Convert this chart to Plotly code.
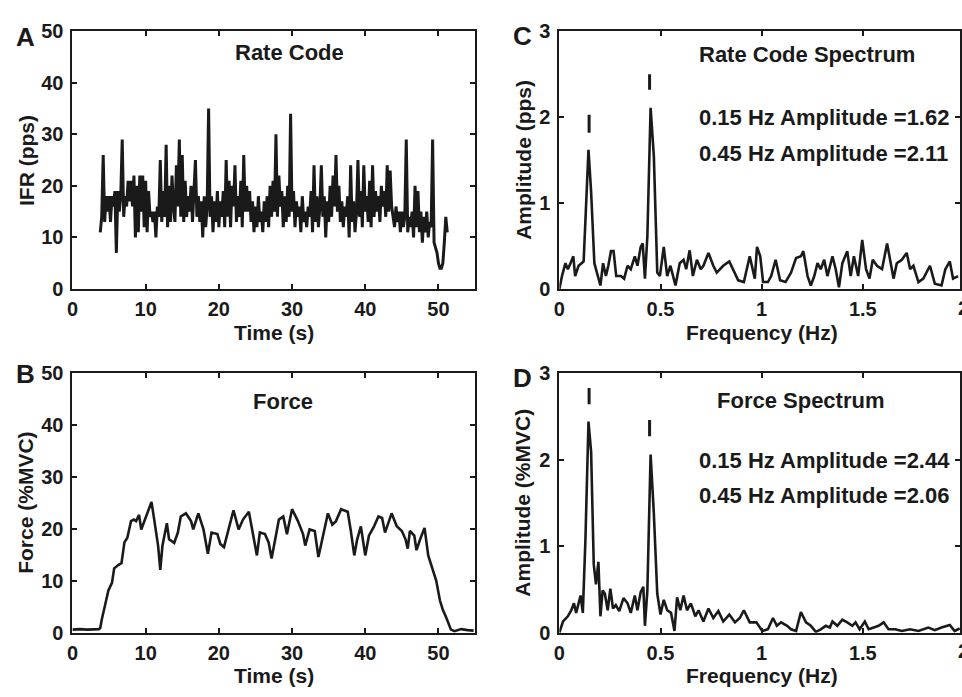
import plotly.graph_objects as go

# ---------------- data ----------------
# Panel A: instantaneous firing rate (pps), sampled every 0.2 s from 3.8 s
rate_t0 = 3.8
rate_dt = 0.2
rate_ifr = [11,
    14, 26, 13, 18, 15,
    18, 13, 18, 16, 19,
    7, 19, 15, 18, 29,
    14, 18, 16, 21, 17,
    21, 16, 22, 10, 20,
    11, 22, 15, 22, 12,
    21, 11, 19, 14, 15,
    13, 15, 10, 16, 14,
    25, 13, 19, 14, 28,
    12, 20, 13, 22, 16,
    13, 24, 16, 29, 14,
    26, 13, 21, 14, 18,
    15, 20, 13, 19, 25,
    14, 18, 13, 17, 10,
    18, 12, 16, 35, 14,
    18, 11, 17, 13, 19,
    12, 17, 14, 19, 12,
    25, 14, 21, 12, 20,
    16, 24, 13, 18, 14,
    21, 12, 26, 15, 20,
    15, 19, 13, 17, 11,
    16, 12, 18, 13, 15,
    11, 17, 13, 18, 12,
    20, 14, 21, 15, 30,
    14, 22, 16, 19, 12,
    18, 13, 20, 14, 34,
    15, 19, 12, 17, 14,
    16, 11, 18, 13, 15,
    12, 16, 14, 19, 11,
    24, 13, 18, 12, 16,
    24, 14, 18, 10, 17,
    13, 20, 14, 22, 16,
    26, 15, 20, 13, 17,
    12, 16, 14, 18, 10,
    24, 13, 17, 11, 15,
    25, 14, 19, 12, 24,
    15, 18, 13, 21, 12,
    24, 14, 19, 15, 18,
    13, 20, 16, 19, 14,
    24, 15, 23, 16, 14,
    12, 16, 13, 15, 11,
    15, 12, 14, 29, 11,
    14, 12, 15, 10, 20,
    12, 19, 11, 15, 9,
    14, 11, 15, 10, 13,
    12, 29, 9, 8, 7,
    5, 4, 4, 5, 9,
    14, 11]
rate_time = [round(rate_t0 + i * rate_dt, 2) for i in range(len(rate_ifr))]

# Panel B: force (%MVC)
force_time = [0, 1, 2, 3, 3.6, 3.8, 4.0, 4.5, 4.9, 5.4, 5.7, 6.3, 6.7, 7.1, 7.5, 8.0, 8.4,
              8.7, 9.1, 9.4, 9.9, 10.3, 10.8, 11.2, 11.7, 12.0, 12.3, 12.9, 13.2, 13.9,
              14.4, 14.8, 15.5, 16.2, 16.5, 17.2, 17.9, 18.5, 19.0, 19.8, 20.2, 20.7,
              21.4, 22.0, 22.7, 23.3, 24.1, 24.5, 25.2, 25.6, 26.3, 26.8, 27.2, 27.7,
              28.2, 28.8, 29.3, 30.0, 30.8, 31.5, 31.8, 32.4, 33.1, 33.6, 34.2, 34.9,
              35.5, 36.0, 36.7, 37.6, 38.0, 38.5, 38.9, 39.4, 40.0, 40.5, 41.2, 41.8,
              42.3, 42.7, 43.6, 44.3, 45.0, 45.5, 45.8, 46.1, 46.7, 47.0, 47.5, 48.1,
              48.6, 49.3, 49.7, 50.2, 50.6, 51.1, 51.7, 52.2, 53.1, 54.0, 54.8]
force_pct = [0.6, 0.7, 0.6, 0.6, 0.7, 0.9, 2.5, 5.6, 8.1, 9.6, 12.4, 13.1, 13.4, 17.4, 18.3,
             21.5, 21.8, 21.5, 22.7, 19.9, 21.8, 23.0, 25.2, 21.5, 16.8, 12.1, 16.8, 21.1,
             18.0, 17.3, 19.3, 22.4, 23.0, 21.5, 19.9, 23.0, 19.9, 15.2, 19.3, 19.0, 17.1,
             16.5, 20.5, 23.6, 19.9, 21.8, 23.3, 20.5, 14.9, 19.3, 19.0, 17.4, 14.3, 18.0,
             21.8, 22.4, 19.0, 23.8, 21.5, 19.0, 16.8, 19.9, 19.6, 14.6, 18.7, 23.0, 20.8,
             21.5, 23.8, 23.3, 19.9, 14.9, 18.0, 20.5, 14.9, 18.7, 20.5, 22.4, 22.1, 19.3,
             23.0, 20.5, 19.6, 18.0, 16.2, 19.6, 18.7, 15.9, 18.0, 20.2, 14.9, 11.8, 10.0,
             6.2, 4.4, 2.8, 0.6, 0.3, 0.7, 0.5, 0.4]

# Panel C: rate code spectrum (pps)
rc_freq = [0.0, 0.013, 0.03, 0.042, 0.055, 0.069, 0.078, 0.095, 0.11, 0.12, 0.144, 0.157,
           0.173, 0.186, 0.203, 0.216, 0.23, 0.242, 0.255, 0.268, 0.281, 0.304, 0.32, 0.337,
           0.353, 0.373, 0.386, 0.402, 0.412, 0.423, 0.435, 0.451, 0.467, 0.484, 0.497,
           0.516, 0.533, 0.549, 0.574, 0.595, 0.614, 0.627, 0.644, 0.66, 0.68, 0.699, 0.712,
           0.737, 0.761, 0.778, 0.81, 0.84, 0.859, 0.884, 0.912, 0.941, 0.966, 0.977, 0.993,
           1.007, 1.031, 1.047, 1.069, 1.091, 1.118, 1.145, 1.17, 1.194, 1.206, 1.227, 1.243,
           1.26, 1.276, 1.292, 1.309, 1.325, 1.35, 1.366, 1.382, 1.399, 1.423, 1.44, 1.456,
           1.477, 1.497, 1.516, 1.533, 1.549, 1.57, 1.595, 1.62, 1.636, 1.652, 1.668, 1.693,
           1.717, 1.734, 1.75, 1.775, 1.799, 1.832, 1.856, 1.889, 1.908, 1.93, 1.946, 1.971]
rc_amp = [0.0, 0.15, 0.30, 0.23, 0.30, 0.38, 0.15, 0.27, 0.30, 0.32, 1.62, 1.13,
          0.30, 0.19, 0.04, 0.30, 0.15, 0.27, 0.44, 0.44, 0.15, 0.15, 0.12, 0.27,
          0.23, 0.38, 0.27, 0.49, 0.53, 0.12, 0.61, 2.11, 1.55, 0.19, 0.15,
          0.49, 0.15, 0.27, 0.04, 0.30, 0.34, 0.23, 0.45, 0.15, 0.34, 0.23, 0.27,
          0.42, 0.27, 0.19, 0.27, 0.32, 0.23, 0.10, 0.08, 0.38, 0.12, 0.49, 0.38,
          0.08, 0.08, 0.15, 0.34, 0.10, 0.08, 0.19, 0.36, 0.38, 0.44, 0.15, 0.04,
          0.15, 0.30, 0.23, 0.34, 0.15, 0.38, 0.23, 0.02, 0.30, 0.44, 0.15, 0.38,
          0.15, 0.57, 0.23, 0.12, 0.34, 0.27, 0.23, 0.53, 0.34, 0.12, 0.30, 0.34,
          0.42, 0.23, 0.27, 0.08, 0.12, 0.27, 0.06, 0.04, 0.23, 0.32, 0.12, 0.15]

# Panel D: force spectrum (%MVC)
fs_freq = [0.0, 0.018, 0.042, 0.059, 0.072, 0.083, 0.095, 0.105, 0.116, 0.129, 0.144, 0.157,
           0.17, 0.181, 0.193, 0.203, 0.214, 0.225, 0.239, 0.252, 0.265, 0.279, 0.296, 0.317,
           0.337, 0.353, 0.373, 0.386, 0.402, 0.415, 0.423, 0.435, 0.451, 0.467, 0.484, 0.5,
           0.516, 0.533, 0.552, 0.569, 0.582, 0.598, 0.614, 0.631, 0.65, 0.672, 0.688, 0.712,
           0.737, 0.761, 0.786, 0.81, 0.84, 0.868, 0.892, 0.912, 0.941, 0.974, 1.003, 1.031,
           1.056, 1.075, 1.096, 1.126, 1.145, 1.17, 1.194, 1.219, 1.243, 1.268, 1.292, 1.317,
           1.337, 1.35, 1.374, 1.399, 1.423, 1.448, 1.464, 1.484, 1.51, 1.529, 1.554, 1.578,
           1.603, 1.627, 1.66, 1.693, 1.734, 1.775, 1.824, 1.856, 1.889, 1.93, 1.954, 1.979]
fs_amp = [0.0, 0.13, 0.19, 0.26, 0.34, 0.23, 0.34, 0.43, 0.23, 1.09, 2.44, 2.09,
          0.79, 0.56, 0.82, 0.19, 0.49, 0.45, 0.26, 0.51, 0.28, 0.32, 0.25, 0.40,
          0.34, 0.23, 0.43, 0.26, 0.47, 0.53, 0.08, 0.49, 2.06, 1.38, 0.45, 0.21,
          0.38, 0.26, 0.23, 0.02, 0.41, 0.26, 0.43, 0.26, 0.34, 0.19, 0.26, 0.13,
          0.28, 0.17, 0.25, 0.13, 0.21, 0.12, 0.17, 0.26, 0.12, 0.12, 0.02, 0.04,
          0.17, 0.08, 0.12, 0.08, 0.04, 0.02, 0.24, 0.12, 0.08, 0.01, 0.04, 0.08,
          0.06, 0.13, 0.08, 0.15, 0.12, 0.08, 0.12, 0.04, 0.13, 0.04, 0.06, 0.08,
          0.12, 0.04, 0.04, 0.02, 0.04, 0.02, 0.06, 0.03, 0.06, 0.09, 0.02, 0.05]

# Peak marker bars above the spectral peaks
peak_freqs = [0.147, 0.446]
rc_peak_bars = [(1.82, 2.03), (2.32, 2.50)]
fs_peak_bars = [(2.64, 2.83), (2.27, 2.46)]

rc_text = ["0.15 Hz Amplitude =1.62", "0.45 Hz Amplitude =2.11"]
fs_text = ["0.15 Hz Amplitude =2.44", "0.45 Hz Amplitude =2.06"]

# ---------------- layout helpers ----------------
W, H = 962, 697
FONT = "Liberation Sans, Arial, sans-serif"
INK = "#1a1a1a"


def fx(p):
    return p / W


def fy(p):
    return 1 - p / H


fig = go.Figure()

line_style = dict(color=INK, width=2.6)

fig.add_trace(go.Scatter(x=rate_time, y=rate_ifr, mode="lines", line=dict(color=INK, width=3.0),
                         xaxis="x", yaxis="y", showlegend=False, hoverinfo="skip"))
fig.add_trace(go.Scatter(x=force_time, y=force_pct, mode="lines", line=line_style,
                         xaxis="x2", yaxis="y2", showlegend=False, hoverinfo="skip"))
fig.add_trace(go.Scatter(x=rc_freq, y=rc_amp, mode="lines", line=line_style,
                         xaxis="x3", yaxis="y3", showlegend=False, hoverinfo="skip"))
fig.add_trace(go.Scatter(x=fs_freq, y=fs_amp, mode="lines", line=line_style,
                         xaxis="x4", yaxis="y4", showlegend=False, hoverinfo="skip"))

for bars, xa, ya in [(rc_peak_bars, "x3", "y3"), (fs_peak_bars, "x4", "y4")]:
    xs, ys = [], []
    for f, (lo, hi) in zip(peak_freqs, bars):
        xs += [f, f, None]
        ys += [lo, hi, None]
    fig.add_trace(go.Scatter(x=xs, y=ys, mode="lines", line=dict(color=INK, width=3),
                             xaxis=xa, yaxis=ya, showlegend=False, hoverinfo="skip"))

# plot areas (pixels)
LEFT_X = (67, 473)
RIGHT_X = (558, 962)
TOP_Y = (21, 287)
BOT_Y = (374, 642)
spec_xmax = 2 * (RIGHT_X[1] - RIGHT_X[0]) / (966 - RIGHT_X[0])

tickfont = dict(family=FONT, size=20, color=INK, weight="bold")
ax_common = dict(showline=True, linewidth=2, linecolor=INK, mirror="ticks",
                 ticks="inside", ticklen=5, tickwidth=2, tickcolor=INK,
                 showgrid=False, zeroline=False, tickfont=tickfont, fixedrange=True)

fig.update_layout(
    width=W, height=H, autosize=False,
    margin=dict(l=0, r=0, t=0, b=0),
    paper_bgcolor="white", plot_bgcolor="white",
    xaxis=dict(domain=[fx(LEFT_X[0]), fx(LEFT_X[1])], anchor="y", range=[0, 55], dtick=10, tick0=0,
               ticklabelstandoff=1, **ax_common),
    yaxis=dict(domain=[fy(TOP_Y[1]), fy(TOP_Y[0])], anchor="x", range=[0, 50], dtick=10, tick0=0,
               ticklabelstandoff=3, **ax_common),
    xaxis2=dict(domain=[fx(LEFT_X[0]), fx(LEFT_X[1])], anchor="y2", range=[0, 55], dtick=10, tick0=0,
                ticklabelstandoff=1, **ax_common),
    yaxis2=dict(domain=[fy(BOT_Y[1]), fy(BOT_Y[0])], anchor="x2", range=[0, 50], dtick=10, tick0=0,
                ticklabelstandoff=3, **ax_common),
    xaxis3=dict(domain=[fx(RIGHT_X[0]), fx(RIGHT_X[1])], anchor="y3", range=[0, spec_xmax], dtick=0.5, tick0=0,
                ticklabelstandoff=1, **ax_common),
    yaxis3=dict(domain=[fy(TOP_Y[1]), fy(TOP_Y[0])], anchor="x3", range=[0, 3], dtick=1, tick0=0,
                ticklabelstandoff=3, **ax_common),
    xaxis4=dict(domain=[fx(RIGHT_X[0]), fx(RIGHT_X[1])], anchor="y4", range=[0, spec_xmax], dtick=0.5, tick0=0,
                ticklabelstandoff=1, **ax_common),
    yaxis4=dict(domain=[fy(BOT_Y[1]), fy(BOT_Y[0])], anchor="x4", range=[0, 3], dtick=1, tick0=0,
                ticklabelstandoff=3, **ax_common),
)

txt = dict(family=FONT, size=21, color=INK, weight="bold")
ttl = dict(family=FONT, size=22, color=INK, weight="bold")
big = dict(family=FONT, size=26, color=INK, weight="bold")
ann = []


def paper(text, x, y, font, angle=0, xanchor="center"):
    ann.append(dict(text=text, x=fx(x), y=fy(y), xref="paper", yref="paper", showarrow=False,
                    font=font, textangle=angle, xanchor=xanchor, yanchor="middle"))


# panel letters
paper("A", 20, 27, big)
paper("B", 20, 375, big)
paper("C", 521, 26, big)
paper("D", 521, 379, big)

# axis titles
paper("Time (s)", 270, 332, txt)
paper("Time (s)", 270, 686, txt)
paper("Frequency (Hz)", 762, 332, txt)
paper("Frequency (Hz)", 762, 686, txt)
paper("IFR (pps)", 20, 154, txt, angle=-90)
paper("Force (%MVC)", 20, 508, txt, angle=-90)
paper("Amplitude (pps)", 521, 154, txt, angle=-90)
paper("Amplitude (%MVC)", 521, 508, txt, angle=-90)

# panel titles (data coords)
ann.append(dict(text="Rate Code", x=29.7, y=45.9, xref="x", yref="y", showarrow=False, font=ttl))
ann.append(dict(text="Force", x=28.8, y=44.6, xref="x2", yref="y2", showarrow=False, font=ttl))
ann.append(dict(text="Rate Code Spectrum", x=1.225, y=2.73, xref="x3", yref="y3", showarrow=False, font=ttl))
ann.append(dict(text="Force Spectrum", x=1.196, y=2.69, xref="x4", yref="y4", showarrow=False, font=ttl))

ampfont = dict(family=FONT, size=22, color=INK, weight="bold")
for i, t in enumerate(rc_text):
    ann.append(dict(text=t, x=0.68, y=[2.0, 1.58][i], xref="x3", yref="y3", showarrow=False,
                    font=ampfont, xanchor="left", yanchor="middle"))
for i, t in enumerate(fs_text):
    ann.append(dict(text=t, x=0.68, y=[1.99, 1.59][i], xref="x4", yref="y4", showarrow=False,
                    font=ampfont, xanchor="left", yanchor="middle"))

# partially visible "2" tick label at the clipped right edge of panels C and D (as in the source)
paper("2", 966, 307, tickfont)
paper("2", 966, 661, tickfont)

fig.update_layout(annotations=ann)

fig.write_html("out.html")
